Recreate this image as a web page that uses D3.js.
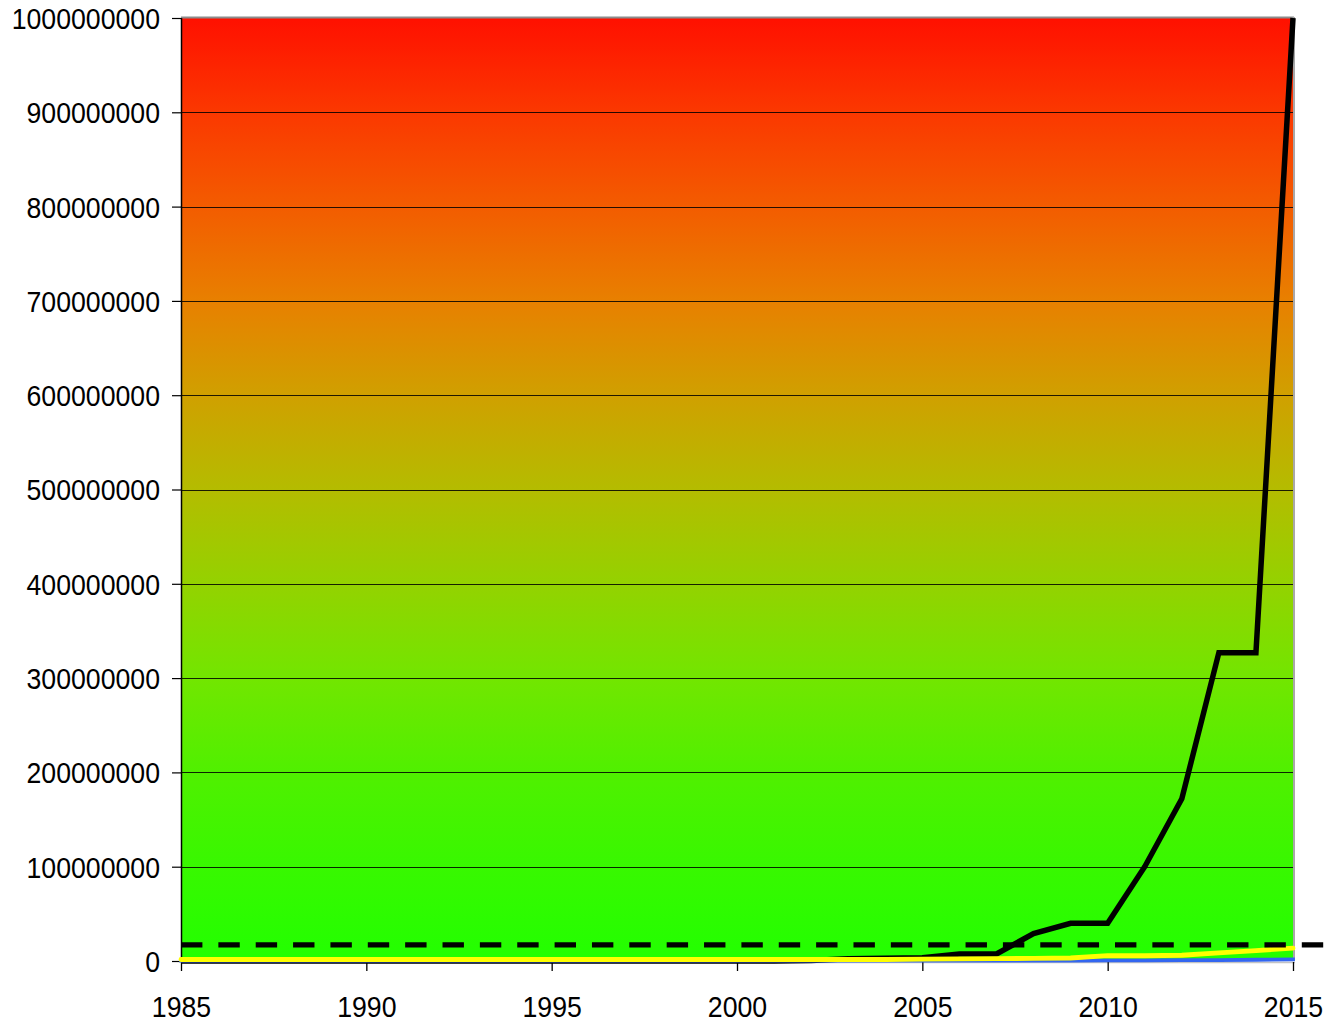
<!DOCTYPE html>
<html>
<head>
<meta charset="utf-8">
<script src="https://cdn.jsdelivr.net/npm/d3@7"></script>
<style>
  html, body { margin: 0; padding: 0; background: #ffffff; }
  svg { display: block; }
  text { font-family: "Liberation Sans", Arial, sans-serif; fill: #000; }
</style>
</head>
<body>
<svg id="chart" width="1326" height="1023"></svg>
<script>
// ---- data ----
const years = [1985,1986,1987,1988,1989,1990,1991,1992,1993,1994,1995,1996,1997,1998,1999,
               2000,2001,2002,2003,2004,2005,2006,2007,2008,2009,2010,2011,2012,2013,2014,2015];
const blackSeries = [0,0,0,0,0,0,0,0,0,0,0,0,0,0,0,
                     0,0,0.5e6,2.5e6,3e6,3.5e6,7.5e6,7.5e6,29e6,40e6,40e6,100e6,172e6,327e6,327e6,1000e6];
const yellowSeries = [0,0,0,0,0,0,0,0,0,0,0,0,0,0,0,
                      0,0,0,0,0,0.3e6,0.6e6,0.9e6,1.2e6,1.6e6,4e6,4e6,4.5e6,7e6,9.5e6,12e6];
const blueSeries = [0,0,0,0,0,0,0,0,0,0,0,0,0,0,0,
                    0,0,0,0,0,0,0,0,0,0,0.1e6,0.2e6,0.3e6,0.5e6,0.8e6,1.2e6];
const thresholdValue = [17.2e6];
const xTicks = [1985,1990,1995,2000,2005,2010,2015];
const xTickLabels = ["1985","1990","1995","2000","2005","2010","2015"];
const yTicks = [0,1e8,2e8,3e8,4e8,5e8,6e8,7e8,8e8,9e8,1e9];
const yTickLabels = ["0","100000000","200000000","300000000","400000000","500000000",
                     "600000000","700000000","800000000","900000000","1000000000"];
const gradientColors = ["#ff1000","#fb3800","#f35c00","#e88000","#d0a000","#b4bc00",
                        "#94d200","#72e600","#50f000","#38f800","#22ff00"];

// ---- layout ----
const W = 1326, H = 1023;
const margin = {left: 181, right: 33, top: 18, bottom: 62};
const svg = d3.select("#chart");
const x = d3.scaleLinear().domain([1985, 2015]).range([margin.left, W - margin.right]);
const y = d3.scaleLinear().domain([0, 1e9]).range([H - margin.bottom, margin.top]);

// gradient background
const defs = svg.append("defs");
const grad = defs.append("linearGradient").attr("id", "bg")
  .attr("x1", 0).attr("y1", 0).attr("x2", 0).attr("y2", 1);
gradientColors.forEach((c, i) => {
  grad.append("stop").attr("offset", (i / (gradientColors.length - 1) * 100) + "%").attr("stop-color", c);
});
svg.append("rect")
  .attr("x", x(1985)).attr("y", y(1e9))
  .attr("width", x(2015) - x(1985)).attr("height", y(0) - y(1e9))
  .attr("fill", "url(#bg)");

// gridlines
svg.append("g").selectAll("line")
  .data(yTicks.filter(v => v > 0 && v < 1e9))
  .join("line")
  .attr("x1", x(1985)).attr("x2", x(2015))
  .attr("y1", d => Math.round(y(d)) + 0.5).attr("y2", d => Math.round(y(d)) + 0.5)
  .attr("stroke", "#000").attr("stroke-width", 1).attr("stroke-opacity", 0.85);

// plot border top & right (gray)
svg.append("line")
  .attr("x1", x(1985)).attr("x2", x(2015) + 1)
  .attr("y1", y(1e9) - 0.5).attr("y2", y(1e9) - 0.5)
  .attr("stroke", "#8c8c8c").attr("stroke-width", 2);
svg.append("line")
  .attr("x1", x(2015) + 1).attr("x2", x(2015) + 1)
  .attr("y1", y(1e9) - 1).attr("y2", y(0))
  .attr("stroke", "#a8a8a8").attr("stroke-width", 2);

// x axis line (light gray) and ticks
svg.append("line")
  .attr("x1", x(1985)).attr("x2", x(2015) + 2)
  .attr("y1", y(0) + 1.5).attr("y2", y(0) + 1.5)
  .attr("stroke", "#c4c4c4").attr("stroke-width", 1.5);

const xAxis = d3.axisBottom(x).tickValues(xTicks)
  .tickFormat((d, i) => xTickLabels[i]).tickSize(9).tickPadding(0);
const gx = svg.append("g").attr("transform", `translate(0,${y(0) + 1})`).call(xAxis);
gx.select(".domain").remove();
gx.selectAll(".tick line").attr("stroke", "#000").attr("stroke-width", 1.3);
gx.selectAll(".tick text")
  .attr("y", 0).attr("dy", null)
  .attr("transform", "translate(0,55) scale(0.92,1)")
  .attr("font-size", "29px")
  .attr("text-anchor", "middle");

// y axis
const yAxis = d3.axisLeft(y).tickValues(yTicks)
  .tickFormat((d, i) => yTickLabels[i]).tickSize(9).tickPadding(0);
const gy = svg.append("g").attr("transform", `translate(${x(1985)},0)`).call(yAxis);
gy.select(".domain").attr("stroke", "#000").attr("stroke-width", 1.5)
  .attr("d", `M0.5,${y(1e9)}V${y(0) + 1}`);
gy.selectAll(".tick line").attr("stroke", "#000").attr("stroke-width", 1.2);
gy.selectAll(".tick text")
  .attr("x", 0).attr("dy", "0.36em")
  .attr("transform", "translate(-21,0) scale(0.92,1)")
  .attr("font-size", "29px")
  .attr("text-anchor", "end");

// lines
const line = d3.line().x((d, i) => x(years[i])).y(d => y(d));

svg.append("path").datum(blackSeries)
  .attr("d", line).attr("fill", "none")
  .attr("stroke", "#000").attr("stroke-width", 5.5)
  .attr("stroke-linejoin", "miter").attr("stroke-linecap", "butt");

svg.append("path").datum(blueSeries)
  .attr("d", line).attr("fill", "none")
  .attr("stroke", "#3366f0").attr("stroke-width", 3.8)
  .attr("stroke-linejoin", "round").attr("stroke-linecap", "square")
  .attr("transform", "translate(0,-0.5)");

svg.append("path").datum(yellowSeries)
  .attr("d", line).attr("fill", "none")
  .attr("stroke", "#ffff00").attr("stroke-width", 4.8)
  .attr("stroke-linejoin", "round").attr("stroke-linecap", "round")
  .attr("transform", "translate(0,-1.5)");

// dashed threshold line, extending to the right edge
svg.append("g").selectAll("line").data(thresholdValue).join("line")
  .attr("x1", x(1985)).attr("x2", W)
  .attr("y1", d => y(d)).attr("y2", d => y(d))
  .attr("stroke", "#000").attr("stroke-width", 5.3)
  .attr("stroke-dasharray", "21.4 15.96");
</script>
</body>
</html>
